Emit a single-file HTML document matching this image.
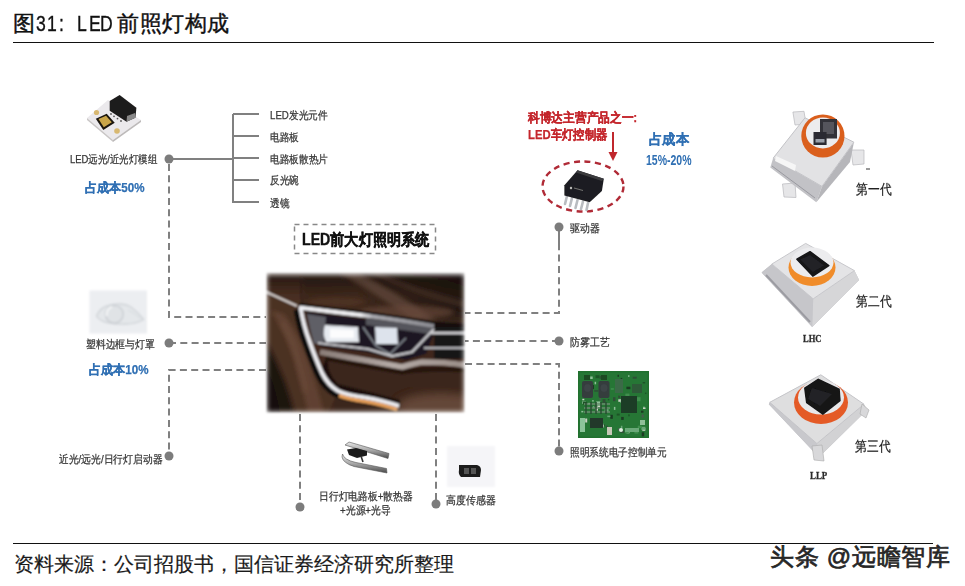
<!DOCTYPE html>
<html><head><meta charset="utf-8">
<style>
html,body{margin:0;padding:0;background:#fff;}
body{width:965px;height:586px;overflow:hidden;position:relative;font-family:"Liberation Sans",sans-serif;color:#222;}
.a{position:absolute;white-space:nowrap;line-height:1;}
.lbl{font-size:11px;color:#363636;transform-origin:0 50%;-webkit-text-stroke:0.25px currentColor;}
.red{color:#c4262c;font-weight:bold;}
.dark{color:#222;}
.tl{-webkit-text-stroke:0.35px #111;top:13.2px;font-size:22px;color:#111;transform:scaleX(0.8);transform-origin:0 0;}
.blue{color:#2f6fb3;font-weight:bold;}
svg{position:absolute;left:0;top:0;}
</style></head>
<body>
<!-- title -->
<div class="a" id="title" style="left:13px;top:12.5px;font-size:22px;color:#111;-webkit-text-stroke:0.4px #111;">图</div>
<div class="a tl" style="left:36px;">3</div>
<div class="a tl" style="left:46.5px;">1</div>
<div class="a tl" style="left:59px;">:</div>
<div class="a tl" style="left:76.5px;">L</div>
<div class="a tl" style="left:88.5px;">E</div>
<div class="a tl" style="left:100px;">D</div>
<div class="a" style="left:117px;top:12.5px;font-size:22.4px;letter-spacing:0.6px;color:#111;-webkit-text-stroke:0.4px #111;">前照灯构成</div>
<div class="a" style="left:13px;top:42px;width:921px;height:1.4px;background:#111;"></div>
<div class="a" style="left:13px;top:543px;width:920px;height:1.4px;background:#111;"></div>
<div class="a" id="foot" style="left:13.5px;top:554px;font-size:20px;color:#1a1a1a;-webkit-text-stroke:0.2px #1a1a1a;">资料来源：公司招股书，国信证券经济研究所整理</div>
<div class="a" id="wm" style="left:770px;top:545px;font-size:24px;letter-spacing:0.7px;color:#262626;-webkit-text-stroke:0.7px #262626;text-shadow:-1px 1px 0 #fff;">头条 @远瞻智库</div>

<!-- lines -->
<svg width="965" height="586" viewBox="0 0 965 586">
  <g stroke="#808080" stroke-width="2" fill="none">
    <path d="M169 159 H233 M233 114 V203 M233 114 H259 M233 136 H259 M233 158 H259 M233 180 H259 M233 202 H259"/>
    <path d="M559 227 V250"/>
  </g>
  <g stroke="#808080" stroke-width="2" fill="none" stroke-dasharray="7 4.3">
    <path d="M169 164 V317 H266"/>
    <path d="M169 343 H266"/>
    <path d="M266 370 H169 V456"/>
    <path d="M559 232 V313 H465"/>
    <path d="M559 341 H465"/>
    <path d="M465 364 H559 V451"/>
    <path d="M300 414 V507"/>
    <path d="M436 414 V504"/>
  </g>
  <g fill="#7c7c7c">
    <circle cx="169" cy="159" r="4.5"/>
    <circle cx="169" cy="343" r="4.5"/>
    <circle cx="169" cy="456" r="4.5"/>
    <circle cx="559" cy="227" r="4.5"/>
    <circle cx="559" cy="341" r="4.5"/>
    <circle cx="559" cy="451" r="4.5"/>
    <circle cx="300" cy="507" r="4.5"/>
    <circle cx="436" cy="504" r="4.5"/>
  </g>
  <!-- title dashed box -->
  <rect x="294.5" y="224.5" width="141" height="29" fill="none" stroke="#888" stroke-width="1.5" stroke-dasharray="5 4"/>
  <!-- red ellipse -->
  <ellipse cx="583" cy="186.5" rx="40.5" ry="25" fill="none" stroke="#b02a36" stroke-width="2.4" stroke-dasharray="6 4.5"/>
  <path d="M613 132 V154" stroke="#c0272d" stroke-width="2"/>
  <path d="M608.5 152 L613 161 L617.5 152 Z" fill="#c0272d"/>
</svg>

<!-- labels -->
<div class="a lbl" style="left:70.3px;top:154.2px;font-size:11px;transform:scaleX(0.86);">LED远光/近光灯模组</div>
<div class="a lbl blue" style="left:84.6px;top:182.1px;font-size:12.5px;transform:scaleX(0.93);">占成本50%</div>
<div class="a lbl" style="left:270.0px;top:109.8px;font-size:11px;transform:scaleX(0.88);">LED发光元件</div>
<div class="a lbl" style="left:270.0px;top:131.9px;font-size:11px;transform:scaleX(0.88);">电路板</div>
<div class="a lbl" style="left:270.2px;top:153.7px;font-size:11px;transform:scaleX(0.88);">电路板散热片</div>
<div class="a lbl" style="left:270.0px;top:175.4px;font-size:11px;transform:scaleX(0.88);">反光碗</div>
<div class="a lbl" style="left:270.0px;top:197.7px;font-size:11px;transform:scaleX(0.88);">透镜</div>
<div class="a lbl" style="left:85.8px;top:338.6px;font-size:11px;transform:scaleX(0.89);">塑料边框与灯罩</div>
<div class="a lbl blue" style="left:89.4px;top:363.9px;font-size:12.5px;transform:scaleX(0.93);">占成本10%</div>
<div class="a lbl" style="left:59.0px;top:453.6px;font-size:11px;transform:scaleX(0.89);">近光/远光/日行灯启动器</div>
<div class="a lbl red" style="left:527.5px;top:110.8px;font-size:13px;transform:scaleX(0.9);">科博达主营产品之一:</div>
<div class="a lbl red" style="left:527.5px;top:127.7px;font-size:13px;transform:scaleX(0.87);">LED车灯控制器</div>
<div class="a lbl blue" style="left:648.7px;top:132.9px;font-size:13.5px;transform:scaleX(0.95);">占成本</div>
<div class="a lbl" style="left:569.6px;top:222.9px;font-size:11px;transform:scaleX(0.9);">驱动器</div>
<div class="a lbl" style="left:570.0px;top:336.8px;font-size:11px;transform:scaleX(0.9);">防雾工艺</div>
<div class="a lbl" style="left:570.0px;top:446.8px;font-size:11px;transform:scaleX(0.88);">照明系统电子控制单元</div>
<div class="a lbl" style="left:319.3px;top:490.8px;font-size:11px;transform:scaleX(0.89);">日行灯电路板+散热器</div>
<div class="a lbl" style="left:339.7px;top:504.7px;font-size:11px;transform:scaleX(0.89);">+光源+光导</div>
<div class="a lbl" style="left:446.0px;top:494.8px;font-size:11px;transform:scaleX(0.9);">高度传感器</div>
<div class="a lbl dark" style="left:855.7px;top:182.2px;font-size:14px;transform:scaleX(0.84);">第一代</div>
<div class="a lbl dark" style="left:856.0px;top:294.2px;font-size:14px;transform:scaleX(0.84);">第二代</div>
<div class="a lbl dark" style="left:855.2px;top:438.9px;font-size:14px;transform:scaleX(0.84);">第三代</div>
<div class="a" id="t2" style="left:302px;top:231.5px;font-size:16px;font-weight:bold;color:#111;-webkit-text-stroke:0.4px #111;transform:scaleX(0.885);transform-origin:0 0;">LED前大灯照明系统</div>
<div class="a blue" id="pct" style="left:646px;top:153px;font-size:14px;transform:scaleX(0.75);transform-origin:0 50%;">15%-20%</div>
<div class="a" style="left:803.3px;top:332.9px;font-size:10.7px;font-weight:bold;font-family:'Liberation Serif',serif;color:#2a2a2a;-webkit-text-stroke:0.3px #2a2a2a;transform:scaleX(0.8);transform-origin:0 0;">LHC</div>
<div class="a" style="left:810px;top:470.8px;font-size:10.6px;font-weight:bold;font-family:'Liberation Serif',serif;color:#2a2a2a;-webkit-text-stroke:0.3px #2a2a2a;transform:scaleX(0.84);transform-origin:0 0;">LLP</div>

<!-- car photo placeholder -->
<svg width="965" height="586" viewBox="0 0 965 586" style="left:0;top:0">
  <defs>
    <filter id="soft" x="-5%" y="-5%" width="110%" height="110%"><feGaussianBlur stdDeviation="1.3"/></filter>
    <filter id="soft3" x="-20%" y="-20%" width="140%" height="140%"><feGaussianBlur stdDeviation="4"/></filter>
    <filter id="soft2" x="-20%" y="-20%" width="140%" height="140%"><feGaussianBlur stdDeviation="2"/></filter>
    <filter id="edge" x="-10%" y="-10%" width="120%" height="120%"><feGaussianBlur stdDeviation="2.5"/></filter>
    <filter id="fblur" x="-20%" y="-20%" width="140%" height="140%"><feGaussianBlur stdDeviation="2.4"/></filter>
    <mask id="feather" maskUnits="userSpaceOnUse" x="240" y="250" width="250" height="190"><rect x="267" y="274.5" width="197" height="137.5" fill="#fff" filter="url(#fblur)"/></mask>
    <clipPath id="carclip"><rect x="0" y="0" width="199" height="141"/></clipPath>
    <linearGradient id="hood" x1="0" y1="0" x2="1" y2="0">
      <stop offset="0" stop-color="#4a3022"/>
      <stop offset="0.17" stop-color="#4a3022"/>
      <stop offset="0.2" stop-color="#3c271b"/>
      <stop offset="0.45" stop-color="#3e281c"/>
      <stop offset="0.7" stop-color="#2e1e15"/>
      <stop offset="1" stop-color="#1e140e"/>
    </linearGradient>
    <linearGradient id="hoodv" x1="0" y1="0" x2="0" y2="1">
      <stop offset="0" stop-color="#140c08" stop-opacity="0.75"/>
      <stop offset="0.25" stop-color="#140c08" stop-opacity="0.3"/>
      <stop offset="0.6" stop-color="#5a3d2d" stop-opacity="0"/>
      <stop offset="1" stop-color="#5a3d2d" stop-opacity="0.6"/>
    </linearGradient>
    <linearGradient id="low" x1="0" y1="0" x2="1" y2="0.3">
      <stop offset="0" stop-color="#3a2419"/>
      <stop offset="0.5" stop-color="#4b3023"/>
      <stop offset="1" stop-color="#6a4a38"/>
    </linearGradient>
    <linearGradient id="chrome" gradientUnits="userSpaceOnUse" x1="33" y1="0" x2="168" y2="0">
      <stop offset="0" stop-color="#eeeef2"/>
      <stop offset="0.45" stop-color="#f2f2f4"/>
      <stop offset="0.55" stop-color="#a8a8ae"/>
      <stop offset="1" stop-color="#8c8c92"/>
    </linearGradient>
    <linearGradient id="sweep" x1="0" y1="0" x2="1" y2="0">
      <stop offset="0" stop-color="#8a7d78"/>
      <stop offset="0.5" stop-color="#b4aaa6"/>
      <stop offset="1" stop-color="#9a8e88"/>
    </linearGradient>
  </defs>
  <g mask="url(#feather)">
  <g transform="translate(266,272)" filter="url(#soft)">
   <g clip-path="url(#carclip)">
    <rect x="0" y="0" width="199" height="141" fill="#3f281c"/>
    <!-- hood -->
    <path d="M0 0 H199 V58 Q150 52 100 45 Q60 38 31 35 L0 20 Z" fill="url(#hood)"/>
    <path d="M0 0 H199 V58 Q150 52 100 45 Q60 38 31 35 L0 20 Z" fill="url(#hoodv)"/>
    <path d="M72 0 L92 0 Q130 20 170 48 L150 50 Q115 25 72 0 Z" fill="#735648" opacity="0.55" filter="url(#soft2)"/>
    <path d="M100 0 L112 0 Q150 18 199 30 L199 36 Q150 22 100 0 Z" fill="#5a4034" opacity="0.5" filter="url(#soft2)"/>
    <path d="M34 2 L36 34" stroke="#2a1a12" stroke-width="1.5" opacity="0.7"/>
    <ellipse cx="140" cy="40" rx="48" ry="7" fill="#6d4c3e" opacity="0.6" filter="url(#soft2)"/>
    <ellipse cx="70" cy="30" rx="30" ry="5" fill="#563828" opacity="0.6" filter="url(#soft2)"/>
    <!-- fender left -->
    <path d="M0 22 L31 36 Q36 70 46 92 Q56 112 72 120 L62 141 L0 141 Z" fill="#4b3123"/>
    <path d="M4 38 Q18 58 28 88 Q36 115 42 141 L58 141 Q50 110 42 86 Q32 60 18 42 Z" fill="#6a4a37" opacity="0.7" filter="url(#soft2)"/>
    <!-- wheel arch -->
    <path d="M0 70 Q10 88 18 108 Q24 124 28 141 L0 141 Z" fill="#1c120d" filter="url(#soft2)"/>
    <path d="M0 95 Q8 110 14 141 L0 141 Z" fill="#120b08"/>
    <path d="M16 50 Q28 70 34 95 Q38 110 40 120" stroke="#6c4c3a" stroke-width="6" fill="none" opacity="0.6" filter="url(#soft2)"/>
    <!-- lower body -->
    <path d="M60 84 Q100 92 136 98 Q160 94 199 96 L199 141 L70 141 Q66 125 72 120 Z" fill="#3b251a"/>
    <ellipse cx="175" cy="135" rx="45" ry="14" fill="#6e5040" opacity="0.8" filter="url(#soft3)"/>
    <path d="M60 86 Q100 94 136 100 Q160 96 199 98" stroke="#24160f" stroke-width="5" fill="none" opacity="0.8"/>
    <!-- black trim around headlight/DRL -->
    <path d="M62 82 Q60 100 72 112 L100 119 L134 128 L134 134 L99 127 L72 121 Q58 112 54 100 Z" fill="#1c110c"/>
    <path d="M34.5 36 Q38 55 43 68 Q50 88 56 101 Q62 113 72 119 Q80 123 99 125.5 Q118 129 133 134" stroke="#0e0908" stroke-width="9" fill="none" transform="translate(-2.5,1.5)"/>
    <path d="M33 35.5 Q60 39 99 43.5 Q140 49 168 54 L199 56" stroke="#120c0a" stroke-width="7" fill="none" transform="translate(0,-1)"/>
    <!-- headlight inner dark -->
    <path d="M40 40 L104 48 L170 56 L160 82 L140 88 L100 80 L54 74 Z" fill="#1a1820"/>
    <path d="M41 42 L60 45 L58 70 L48 72 Q44 58 41 42 Z" fill="#5e5e66"/>
    <path d="M100 46 L168 55 L164 62 L100 53 Z" fill="#55555c"/>
    <!-- grille -->
    <rect x="168" y="55" width="31" height="32" fill="#181416"/>
    <path d="M165 61 H199" stroke="#d2d2d6" stroke-width="2.5"/>
    <path d="M158 76 H199" stroke="#b4b4b8" stroke-width="2"/>
    <!-- lenses -->
    <path d="M59 53 L92 55 L93 70 L60 70 Q56 62 59 53 Z" fill="#e6eaf0"/>
    <path d="M64 57 L88 58 L88 66 L64 66 Z" fill="#ffffff" opacity="0.85"/>
    <path d="M109 55 L131 56 L132 72 L110 72 Z" fill="#dde3ec"/>
    <path d="M97 55 L110 74 L124 82 L140 66" stroke="#8a9098" stroke-width="1.5" fill="none"/>
    <!-- V chrome under lenses -->
    <path d="M52 71 L102 77 L126 84 L146 80 L168 57" stroke="#cfcfd3" stroke-width="2.2" fill="none"/>
    <!-- lower chrome sweep -->
    <path d="M54 80 Q80 85 98 88 Q120 92 136 95 Q146 92 156 90 Q180 90 199 93" stroke="url(#sweep)" stroke-width="5.5" fill="none"/>
    <!-- hood edge reflection -->
    <path d="M0 20 L31 34" stroke="#d9d4d2" stroke-width="2" fill="none"/>
    <!-- DRL chrome top -->
    <path d="M33 35.5 Q60 39 99 43.5 Q140 49 168 54" stroke="url(#chrome)" stroke-width="4" fill="none"/>
    <!-- DRL vertical/lower -->
    <path d="M34.5 36 Q38 55 43 68 Q50 88 56 101 Q62 113 72 119 Q80 123 99 125.5 Q118 129 133 134" stroke="#ececf0" stroke-width="4" fill="none"/>
    <path d="M73 123.5 Q82 127 99 129.5 Q118 133 131 137.5" stroke="#e8a05a" stroke-width="3.6" fill="none"/>
   </g>
  </g>
  </g>
</svg>
<svg width="965" height="586" viewBox="0 0 965 586" style="left:0;top:0">
  <defs>
    <filter id="b1"><feGaussianBlur stdDeviation="0.7"/></filter>
    <filter id="b2" x="-10%" y="-10%" width="120%" height="120%"><feGaussianBlur stdDeviation="1.2"/></filter>
    <radialGradient id="ring" cx="0.5" cy="0.6" r="0.6">
      <stop offset="0.6" stop-color="#e06a2a"/>
      <stop offset="1" stop-color="#c9531c"/>
    </radialGradient>
    <linearGradient id="metal" x1="0" y1="0" x2="1" y2="1">
      <stop offset="0" stop-color="#eeeeee"/>
      <stop offset="1" stop-color="#d0d0d2"/>
    </linearGradient>
  </defs>
  <!-- LED module -->
  <g filter="url(#b1)">
    <path d="M87 118 L108 100 L141 120 L113 140 Z" fill="#ebe9ec"/>
    <path d="M87 118 L113 140 L113 142 L87 120 Z" fill="#c9c6c6"/>
    <path d="M113 140 L141 120 L141 122 L113 142 Z" fill="#bdbaba"/>
    <path d="M109.7 100.9 L119.6 94.9 L136.4 107.8 L135.4 117.7 L126.5 121.7 L109.7 110.8 Z" fill="#1e1c1c"/>
    <path d="M126.5 121.7 L135.4 117.7 L135 113 L127 116 Z" fill="#888"/>
    <path d="M95.8 118.7 L106.7 113.7 L114.7 122.7 L103.3 130 Z" fill="#1a1610"/>
    <path d="M98.5 119 L106 115.8 L111.8 122.3 L103.8 127.3 Z" fill="#c9a548"/>
    <circle cx="96.5" cy="112.5" r="2.6" fill="#d8b870"/>
    <circle cx="117" cy="131" r="2.8" fill="#d8b870"/>
    <circle cx="111" cy="114" r="0.9" fill="#555"/><circle cx="114" cy="116.3" r="0.9" fill="#555"/><circle cx="117.5" cy="118.6" r="0.9" fill="#555"/><circle cx="121" cy="121" r="0.9" fill="#555"/>
  </g>
  <!-- bezel -->
  <g filter="url(#b2)">
    <rect x="89.5" y="290.5" width="57.5" height="43" fill="#eceef1"/>
  </g>
  <g filter="url(#b2)">
    <path d="M96.5 316 Q100 308 107 306 Q114 303.5 121 304 Q127 304.5 131 307 Q138 312 143.6 319.5 Q136 324 126 324 Q116 324.5 107 322.5 Q99 320.5 96.5 316 Z" fill="#e4e7ea" stroke="#d0d4d8" stroke-width="1.4"/>
    <circle cx="114.3" cy="314.2" r="8.9" fill="#e0e3e6" stroke="#c8ccd1" stroke-width="1.3"/>
    <path d="M106.5 316 Q106 309 112 306.5" stroke="#fafbfc" stroke-width="1.6" fill="none"/>
    <path d="M128 310 Q136 314 140 318.5" stroke="#d6dade" stroke-width="1" fill="none"/>
  </g>
  <!-- chip -->
  <g filter="url(#b1)">
    <path d="M563 196 L565 205 L569 211 L590 211 L589 203 Z" fill="none"/>
    <g stroke="#b9bcc0" stroke-width="2.6" stroke-linecap="round">
      <path d="M567 196 L565 204"/><path d="M572 198 L570 206"/><path d="M577.5 200 L575.5 208"/><path d="M583 201.5 L581 209"/><path d="M588 203 L586.5 210"/>
    </g>
    <path d="M564.4 185.3 L577.5 170.3 L603.8 178.8 L601.9 191 L589.7 202.2 L564.4 195.6 Z" fill="#1f1f21"/>
    <path d="M577.5 170.3 L603.8 178.8 L601.9 181 L576 172.5 Z" fill="#3a3a3e"/>
    <circle cx="571" cy="188" r="1.2" fill="#bbb"/>
    <path d="M574 188 L583 190.5" stroke="#888" stroke-width="0.8"/>
  </g>
  <!-- PCB -->
  <g filter="url(#b1)">
    <rect x="578" y="371" width="71" height="67" fill="#23702f"/>
    <rect x="579.5" y="372.5" width="68" height="64" fill="#277636"/>
    <rect x="595.5" y="406.7" width="2.5" height="4" fill="#c9d2c4"/>
    <rect x="620.7" y="377.9" width="1.5" height="3" fill="#1a3a22"/>
    <rect x="615.8" y="385.5" width="3" height="4" fill="#c9d2c4"/>
    <rect x="605.8" y="425.7" width="2" height="2" fill="#2f4f36"/>
    <rect x="628.2" y="414.3" width="1.5" height="2" fill="#1d5527"/>
    <rect x="599.6" y="375.9" width="2.5" height="3" fill="#2f4f36"/>
    <rect x="626.4" y="429.3" width="3" height="4" fill="#c9d2c4"/>
    <rect x="642.7" y="382.0" width="2.5" height="1.5" fill="#1d5527"/>
    <rect x="588.8" y="387.0" width="3" height="2.5" fill="#2f4f36"/>
    <rect x="613.0" y="397.2" width="2.5" height="4" fill="#2f4f36"/>
    <rect x="618.0" y="428.3" width="1.5" height="2.5" fill="#4a5a4e"/>
    <rect x="625.4" y="393.6" width="4" height="4" fill="#3f8f4e"/>
    <rect x="626.4" y="386.7" width="4" height="2.5" fill="#1a3a22"/>
    <rect x="588.1" y="402.9" width="3" height="1.5" fill="#8fbf98"/>
    <rect x="632.0" y="398.6" width="2" height="1.5" fill="#1a3a22"/>
    <rect x="607.8" y="398.9" width="1.5" height="1.5" fill="#1d5527"/>
    <rect x="604.6" y="409.2" width="4" height="2.5" fill="#6aa878"/>
    <rect x="644.9" y="392.6" width="1.5" height="1.5" fill="#1d5527"/>
    <rect x="641.7" y="432.3" width="2.5" height="4" fill="#1a3a22"/>
    <rect x="590.2" y="376.5" width="2.5" height="2.5" fill="#8fbf98"/>
    <rect x="642.3" y="427.8" width="3" height="3" fill="#c9d2c4"/>
    <rect x="636.5" y="397.2" width="4" height="4" fill="#3f8f4e"/>
    <rect x="620.3" y="430.4" width="4" height="2.5" fill="#2f4f36"/>
    <rect x="621.2" y="416.9" width="2.5" height="3" fill="#1a3a22"/>
    <rect x="613.9" y="406.9" width="1.5" height="3" fill="#8fbf98"/>
    <rect x="581.3" y="410.9" width="2" height="1.5" fill="#8fbf98"/>
    <rect x="610.3" y="414.8" width="2.5" height="4" fill="#1a3a22"/>
    <rect x="628.0" y="375.3" width="1.5" height="1.5" fill="#8fbf98"/>
    <rect x="596.3" y="401.4" width="4" height="4" fill="#8fbf98"/>
    <rect x="591.5" y="385.1" width="2.5" height="4" fill="#1a3a22"/>
    <rect x="599.5" y="396.6" width="1.5" height="4" fill="#4a5a4e"/>
    <rect x="600.2" y="387.4" width="2.5" height="2" fill="#8fbf98"/>
    <rect x="592.2" y="400.1" width="1.5" height="1.5" fill="#8fbf98"/>
    <rect x="641.7" y="414.5" width="2" height="3" fill="#4a5a4e"/>
    <rect x="585.2" y="418.5" width="2" height="4" fill="#c9d2c4"/>
    <rect x="597.6" y="421.2" width="1.5" height="4" fill="#6aa878"/>
    <rect x="600.5" y="424.2" width="4" height="2" fill="#1a3a22"/>
    <rect x="602.1" y="423.7" width="1.5" height="4" fill="#8fbf98"/>
    <rect x="618.3" y="399.3" width="4" height="2.5" fill="#c9d2c4"/>
    <rect x="602.5" y="399.0" width="3" height="4" fill="#2f4f36"/>
    <rect x="582.3" y="398.8" width="2" height="1.5" fill="#c9d2c4"/>
    <rect x="641.3" y="426.8" width="4" height="3" fill="#6aa878"/>
    <rect x="582.1" y="401.4" width="4" height="2.5" fill="#8fbf98"/>
    <rect x="637.8" y="425.7" width="4" height="2.5" fill="#3f8f4e"/>
    <rect x="632.7" y="376.7" width="4" height="2" fill="#2f4f36"/>
    <rect x="617.5" y="374.8" width="1.5" height="2" fill="#1a3a22"/>
    <rect x="595.5" y="375.2" width="4" height="3" fill="#1d5527"/>
    <rect x="641.0" y="410.7" width="2.5" height="2" fill="#1a3a22"/>
    <rect x="643.2" y="406.5" width="1.5" height="2.5" fill="#6aa878"/>
    <rect x="592.8" y="406.1" width="1.5" height="2" fill="#6aa878"/>
    <rect x="631.5" y="429.3" width="2" height="1.5" fill="#c9d2c4"/>
    <rect x="620.9" y="425.8" width="1.5" height="2.5" fill="#6aa878"/>
    <rect x="597.5" y="405.6" width="3" height="1.5" fill="#c9d2c4"/>
    <rect x="601.0" y="423.2" width="1.5" height="2" fill="#1d5527"/>
    <rect x="588.1" y="378.1" width="1.5" height="1.5" fill="#c9d2c4"/>
    <rect x="600.5" y="392.9" width="2.5" height="3" fill="#2f4f36"/>
    <rect x="618.1" y="395.7" width="2" height="2.5" fill="#2f4f36"/>
    <rect x="588.0" y="407.3" width="3" height="1.5" fill="#4a5a4e"/>
    <rect x="582.8" y="401.6" width="4" height="3" fill="#1d5527"/>
    <rect x="620.5" y="399.9" width="2.5" height="3" fill="#8fbf98"/>
    <rect x="607.3" y="415.6" width="3" height="1.5" fill="#6aa878"/>
    <rect x="594.2" y="390.2" width="4" height="1.5" fill="#2f4f36"/>
    <rect x="594.6" y="381.8" width="1.5" height="2.5" fill="#8fbf98"/>
    <rect x="643.0" y="407.5" width="2.5" height="1.5" fill="#c9d2c4"/>
    <rect x="624.9" y="430.3" width="4" height="3" fill="#3f8f4e"/>
    <rect x="627.7" y="407.8" width="1.5" height="4" fill="#1d5527"/>
    <rect x="610.8" y="388.2" width="3" height="1.5" fill="#3f8f4e"/>
    <rect x="616.7" y="413.6" width="3" height="2" fill="#1d5527"/>
    <rect x="602.2" y="425.1" width="1.5" height="1.5" fill="#c9d2c4"/>
    <rect x="634.4" y="431.1" width="4" height="2.5" fill="#3f8f4e"/>
    <rect x="582" y="381" width="11" height="17" rx="2" fill="#343c3e"/>
    <rect x="598.5" y="381" width="11" height="17" rx="2" fill="#343c3e"/>
    <ellipse cx="587.5" cy="388" rx="3.5" ry="4" fill="#3c4446"/>
    <ellipse cx="604" cy="388" rx="3.5" ry="4" fill="#3c4446"/>
    <rect x="584" y="375" width="6" height="5" fill="#1a4a24"/>
    <rect x="601" y="375" width="6" height="5" fill="#1a4a24"/>
    <rect x="621" y="396" width="16" height="17" fill="#1f3d28"/>
    <rect x="632" y="384" width="10" height="9" fill="#2d5a38"/>
    <rect x="615" y="379" width="8" height="14" fill="#3a6a46"/>
    <path d="M584 404 h26 M584 408 h26 M584 412 h26" stroke="#6b8f70" stroke-width="1.3"/>
    <path d="M586 402 v12 M591 402 v12 M596 402 v12 M601 402 v12 M606 402 v12" stroke="#264a2e" stroke-width="1.4"/>
    <rect x="590" y="418" width="13" height="10" fill="#22382a"/>
    <rect x="580" y="418" width="5" height="14" fill="#8cc49a"/>
    <rect x="607" y="427" width="5" height="8" fill="#c8c8b8"/>
    <circle cx="621" cy="430" r="2" fill="#e0ece0"/>
    <rect x="625" y="428" width="14" height="4" fill="#6aa878"/>
    <rect x="640" y="420" width="5" height="5" fill="#8fbf98"/>
  </g>
  <!-- DRL part -->
  <defs>
    <linearGradient id="bar" x1="0" y1="0" x2="0" y2="1">
      <stop offset="0" stop-color="#e8e8e8"/>
      <stop offset="0.5" stop-color="#a8a8a8"/>
      <stop offset="1" stop-color="#4a4a4a"/>
    </linearGradient>
  </defs>
  <g filter="url(#b1)">
    <path d="M345 445 L349 442 L389 453.5 L388 458.5 Z" fill="url(#bar)" stroke="#555" stroke-width="0.6"/>
    <path d="M342.5 454 Q344 460 356 462.5 L386.5 468.5 L387 473 L354 466.5 Q343 463 342 457 Z" fill="url(#bar)" stroke="#555" stroke-width="0.6"/>
    <path d="M347 449.5 L356 448 L367 451 L367 455.5 L357 458 L349 455 Z" fill="#1e1e1e"/>
    <path d="M361 456 L363 462" stroke="#333" stroke-width="1.6"/>
  </g>
  <!-- height sensor -->
  <g filter="url(#b2)">
    <rect x="447" y="446" width="48" height="41" fill="#f5f5f8"/>
  </g>
  <g filter="url(#b1)">
    <path d="M459 465 L477 465 Q481 466 481 470 L480 477 L461 477 Q458 474 459 470 Z" fill="#1e1e1e"/>
    <rect x="464" y="468" width="5" height="6" fill="#555"/>
    <rect x="471" y="468" width="5" height="6" fill="#555"/>
  </g>
  <!-- ballast 1 -->
  <g filter="url(#b1)">
    <path d="M792.9 112 L804 111.3 L806 124 L795 125 Z" fill="#e6e6e8" stroke="#b8b8bc" stroke-width="0.7"/>
    <path d="M851 150 L864 150 L864 164 L853 165 Z" fill="#e6e6e8" stroke="#b8b8bc" stroke-width="0.7"/>
    <path d="M782.5 184 L795 183 L796 197.5 L784 197 Z" fill="#e6e6e8" stroke="#b8b8bc" stroke-width="0.7"/>
    <path d="M773.1 158.2 L822 186.4 L816.3 202.3 L770.3 167.6 Z" fill="#c2c2c6"/>
    <path d="M822 186.4 L853.9 142.2 L850 162 L816.3 202.3 Z" fill="#b6b6ba"/>
    <path d="M805 117.8 L853.9 142.2 L822 186.4 L773.1 158.2 Z" fill="#e2e2e4"/>
    <path d="M805 117.8 L853.9 142.2 L822 186.4 L773.1 158.2 Z" fill="none" stroke="#c2c2c6" stroke-width="1"/>
    <path d="M776 156 L796 165 L795 171 L775 161 Z" fill="#f6f6f6"/>
    <path d="M772 166 L815 198" stroke="#9a9aa0" stroke-width="1"/>
    <ellipse cx="822.9" cy="136" rx="21.6" ry="21.6" fill="#da5e1f"/>
    <ellipse cx="822.9" cy="132.9" rx="17" ry="15.5" fill="#ececee"/>
    <path d="M820 119 L837 119 L837 138.5 L820 138.5 Z" fill="#333338"/>
    <path d="M823 122 L834 122 L834 134 L823 134 Z" fill="#55555c"/>
    <path d="M813.5 132 L826.6 132 L826.6 145 L813.5 145 Z" fill="#2c2c32"/>
    <rect x="815.5" y="139" width="9" height="3.5" fill="#9aa0aa"/>
  </g>
  <!-- ballast 2 -->
  <g filter="url(#b1)">
    <path d="M761.6 272.5 L812.2 327 L859.1 280 L854.4 270.6 L813.2 298.8 L771.9 264 Z" fill="#bdbdc1"/>
    <path d="M761.6 272.5 L771.9 264 L813.2 298.8 L812.2 327 Z" fill="#c6c6ca"/>
    <path d="M813.2 298.8 L854.4 270.6 L859.1 280 L812.2 327 Z" fill="#d6d6d8"/>
    <path d="M771.9 264 L805.7 243.4 L854.4 270.6 L813.2 298.8 Z" fill="#e4e4e6"/>
    <path d="M771.9 264 L805.7 243.4 L854.4 270.6 L813.2 298.8 Z" fill="none" stroke="#c8c8cc" stroke-width="1"/>
    <path d="M766 275 L810 322" stroke="#9c9ca2" stroke-width="2"/>
    <ellipse cx="812" cy="267.5" rx="23.5" ry="18.5" fill="#f08c2a"/>
    <ellipse cx="812" cy="262.5" rx="21.5" ry="15" fill="#ececee"/>
    <path d="M810 251.7 L828.8 265.5 L812.8 276.1 L796.9 259.2 Z" fill="#141418" stroke="#141418" stroke-width="1.5" stroke-linejoin="round"/>
    <path d="M810 255 L824 265.5 L812.8 272 L800.5 259.5 Z" fill="#222228"/>
  </g>
  <!-- ballast 3 -->
  <g filter="url(#b1)">
    <path d="M768.8 404.2 L818.9 457.2 L867 410 L864 404.2 L816.9 443.5 L769.8 402.3 Z" fill="#bcbcc0"/>
    <path d="M768.8 404.2 L769.8 402.3 L816.9 443.5 L818.9 457.2 Z" fill="#c8c8cc"/>
    <path d="M816.9 443.5 L864 404.2 L867 410 L818.9 457.2 Z" fill="#d2d2d4"/>
    <path d="M769.8 402.3 L820.8 374.8 L864 404.2 L816.9 443.5 Z" fill="#dededf"/>
    <path d="M769.8 402.3 L820.8 374.8 L864 404.2 L816.9 443.5 Z" fill="none" stroke="#c4c4c8" stroke-width="1"/>
    <path d="M812 446 L822 445 L824 461 L814 460 Z" fill="#d8d8da" stroke="#aaa" stroke-width="0.6"/>
    <path d="M862 404 L869 410 L866 418 L860 414 Z" fill="#d8d8da" stroke="#aaa" stroke-width="0.6"/>
    <ellipse cx="821" cy="402.5" rx="27" ry="21.5" fill="#e45a26"/>
    <ellipse cx="821" cy="397.5" rx="23" ry="17" fill="#e8e8ea"/>
    <path d="M818.2 378.5 L839.8 388.8 L840.7 401 L822.9 415 L806 403 L804 387.8 Z" fill="#121214"/>
    <path d="M812 388 L832 394 L820 406 L808 399 Z" fill="#222226"/>
  </g>
  <path d="M866 169 H870" stroke="#333" stroke-width="1"/>
</svg>
</body></html>
